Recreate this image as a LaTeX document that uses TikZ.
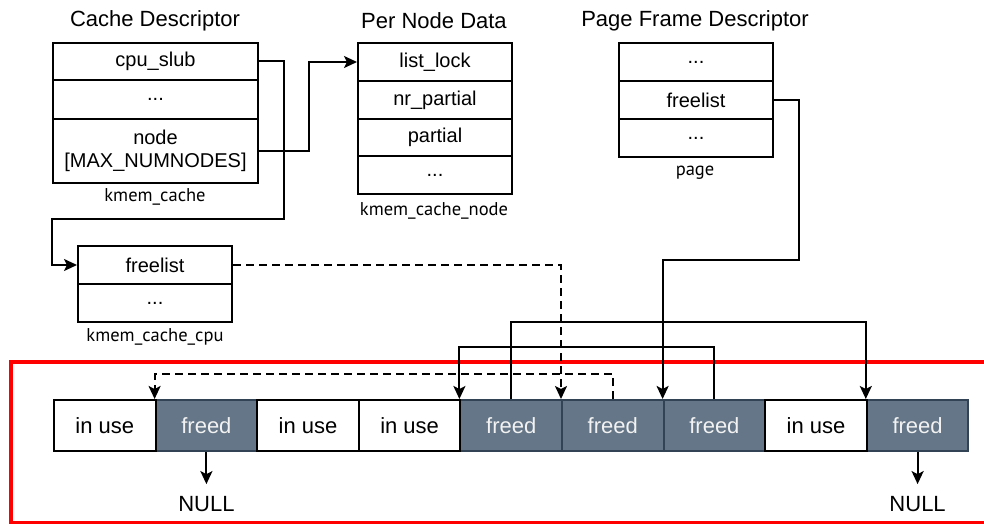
\documentclass[tikz,border=0pt]{standalone}
\usepackage{fontspec}
\setmainfont{Liberation Sans}
\newfontfamily\capfont{PT Sans}
\usetikzlibrary{arrows.meta}
\definecolor{slate}{HTML}{647687}
\definecolor{slateline}{HTML}{314354}
\begin{document}
\begin{tikzpicture}[x=1pt,y=-1pt,
  field/.style={draw,line width=2pt,anchor=north west,inner sep=0pt,minimum width=154pt,minimum height=38pt,font=\fontsize{20}{23}\selectfont},
  title/.style={font=\fontsize{22}{24}\selectfont},
  tag/.style={font=\capfont\fontsize{18.5}{20}\selectfont},
  inuse/.style={draw,line width=2pt,fill=white,anchor=north west,inner sep=0pt,minimum width=101.6pt,minimum height=51pt,font=\fontsize{22}{24}\selectfont},
  freed/.style={inuse,draw=slateline,fill=slate,text=white!95!black},
  arr/.style={-{Stealth[length=13pt,width=12pt,inset=3pt]},line width=2pt},
  dashline/.style={line width=2pt,dash pattern=on 8pt off 5pt}]
\useasboundingbox (0,0) rectangle (984,524);
% highlighted slab
\draw[red,line width=4pt] (11,362) rectangle (1010,523);
% kmem_cache
\node[title] (tcache) at (155,21) {Cache Descriptor};
\node[field,minimum width=205pt,minimum height=37pt] (slub) at (52,42) {cpu\_slub};
\node[field,minimum width=205pt,minimum height=39pt] (cdots) at (52,79) {...};
\node[field,minimum width=205pt,minimum height=64pt,align=center] (nodes) at (52,118) {node\\{}{[}MAX\_NUMNODES{]}};
\node[tag] (kcache) at (155,197) {kmem\_cache};
% kmem_cache_node
\node[title] (tnode) at (434,21) {Per Node Data};
\node[field] (lock) at (357,42) {list\_lock};
\node[field] (nrp) at (357,80) {nr\_partial};
\node[field,minimum height=37pt] (part) at (357,118) {partial};
\node[field] (ndots) at (357,155) {...};
\node[tag] (kcnode) at (434,211) {kmem\_cache\_node};
% page
\node[title] (tpage) at (695,21) {Page Frame Descriptor};
\node[field] (pdots1) at (618,42) {...};
\node[field] (pfree) at (618,80) {freelist};
\node[field] (pdots2) at (618,118) {...};
\node[tag] (kpage) at (695,173) {page};
% kmem_cache_cpu
\node[field] (cfree) at (77,245) {freelist};
\node[field] (cpdots) at (77,283) {...};
\node[tag] (kcpu) at (155,337) {kmem\_cache\_cpu};
% objects of the slab
\foreach \i in {1,4,5,6,8}
  \node[freed] (c\i) at ({53+101.6*\i},399) {freed};
\foreach \i in {0,2,3,7}
  \node[inuse] (c\i) at ({53+101.6*\i},399) {in use};
\node[title,inner sep=0pt] (null1) at (c1.south |- 0,504) {NULL};
\node[title,inner sep=0pt] (null8) at (c8.south |- 0,504) {NULL};
% pointers
\draw[arr] (slub.east) -- ++(25,0) -- ++(0,157) -| ([xshift=-25pt]cfree.west) -- (cfree.west);
\draw[arr] (nodes.east) -- ++(50,0) |- (lock.west);
\draw[arr] (pfree.east) -- ++(25,0) -- ++(0,160) -| (c6.north west);
\draw[arr,dashline] (cfree.east) -| (c5.north west);
\draw[arr,dashline] (c5.north) -- ++(0,-25) -| (c1.north west);
\draw[arr] (c6.north) -- ++(0,-52) -| (c4.north west);
\draw[arr] (c4.north) -- ++(0,-77) -| (c8.north west);
\draw[arr,shorten >=12pt] (c1.south) -- (null1.north);
\draw[arr,shorten >=12pt] (c8.south) -- (null8.north);
\end{tikzpicture}
\end{document}
